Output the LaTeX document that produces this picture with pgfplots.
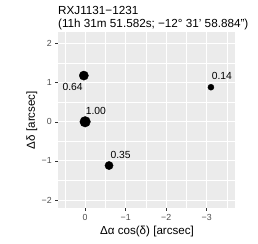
\documentclass[border=0pt]{standalone}
\usepackage{pgfplots}
\pgfplotsset{compat=1.18}
\usepackage{fontspec}
\setmainfont{Liberation Sans}
\definecolor{ggbg}{HTML}{EBEBEB}
\definecolor{ggtick}{HTML}{4D4D4D}
\definecolor{ggtickline}{HTML}{333333}
\begin{document}
\begin{tikzpicture}
\useasboundingbox (-58pt,-36pt) rectangle (200pt,208pt);
\begin{axis}[
  at={(0,0)}, anchor=south west,
  scale only axis, width=177pt, height=176pt,
  x dir=reverse,
  xmin=-3.70, xmax=0.67, ymin=-2.20, ymax=2.29,
  axis background/.style={fill=ggbg},
  axis x line*=bottom, axis y line*=left,
  axis line style={draw=none},
  xtick={-3,-2,-1,0}, xticklabels={−3,−2,−1,0},
  ytick={-2,-1,0,1,2}, yticklabels={−2,−1,0,1,2},
  minor xtick={-3.5,-2.5,-1.5,-0.5,0.5},
  minor ytick={-1.5,-0.5,0.5,1.5},
  grid=both,
  major grid style={white, line width=1.07pt},
  minor grid style={white, line width=0.53pt},
  tick align=outside,
  major tick length=2.75pt, minor tick length=0pt,
  every tick/.style={ggtickline, line width=0.5pt},
  tick label style={font=\fontsize{8.8}{10}\selectfont, text=ggtick},
  /pgf/number format/assume math mode=true,
  title={RXJ1131−1231\\(11h 31m 51.582s; −12° 31\symbol{"27} 58.884\symbol{"22})},
  every axis title/.style={at={(axis description cs:0,1)}, anchor=south west, align=left, inner sep=0pt, yshift=2pt, font=\fontsize{11.7}{13}\selectfont},
  xlabel={Δα cos(δ) [arcsec]},
  ylabel={Δδ [arcsec]},
  every axis x label/.style={at={(axis description cs:0.503,-0.136)}, anchor=center, font=\fontsize{11.6}{13}\selectfont},
  every axis y label/.style={at={(axis description cs:-0.147,0.5)}, rotate=90, anchor=center, font=\fontsize{11.6}{13}\selectfont},
  point meta=explicit symbolic,
  nodes near coords,
  every node near coord/.append style={font=\fontsize{10.3}{12}\selectfont, inner sep=0pt, text=black},
]
\addplot[only marks, mark=*, mark size=5.3pt, black,
  nodes near coords style={anchor=west, xshift=0.5pt, yshift=11pt}]
  coordinates {(0,0) [1.00]};
\addplot[only marks, mark=*, mark size=4.6pt, black,
  nodes near coords style={anchor=east, xshift=-1pt, yshift=-11pt}]
  coordinates {(0.032,1.178) [0.64]};
\addplot[only marks, mark=*, mark size=4.1pt, black,
  nodes near coords style={anchor=west, xshift=1.3pt, yshift=10.5pt}]
  coordinates {(-0.590,-1.117) [0.35]};
\addplot[only marks, mark=*, mark size=3.0pt, black,
  nodes near coords style={anchor=west, xshift=0.7pt, yshift=11pt}]
  coordinates {(-3.106,0.881) [0.14]};
\end{axis}
\end{tikzpicture}
\end{document}
